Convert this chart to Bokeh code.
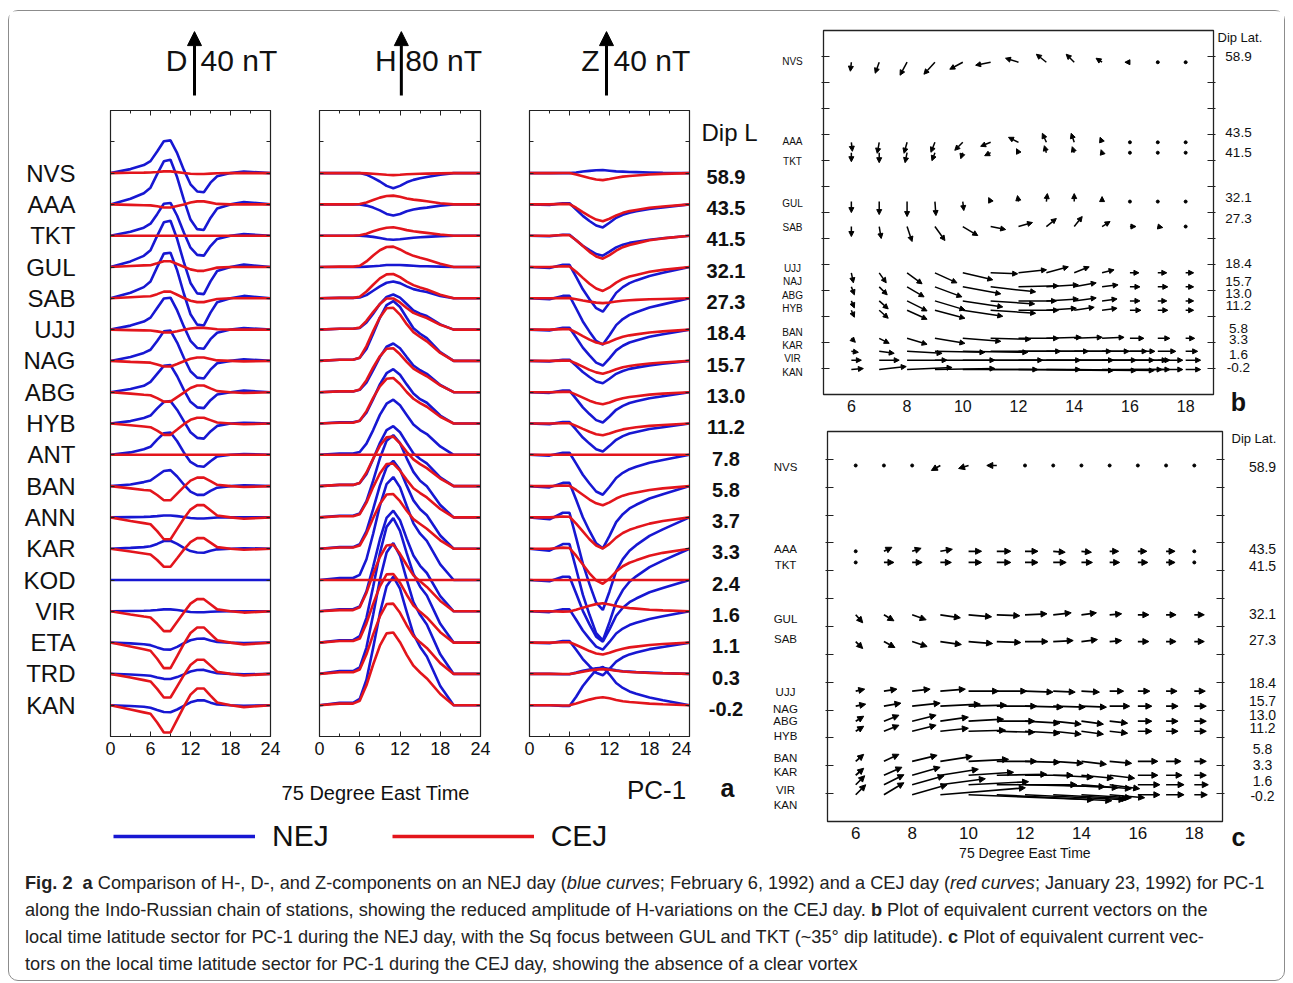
from bokeh.plotting import figure
from bokeh.models import (Range1d, LinearAxis, FixedTicker, Arrow, NormalHead,
                          ColumnDataSource, Legend, LegendItem, Div, CustomJSTickFormatter)
from bokeh.layouts import row, column
from bokeh.embed import file_html
from bokeh.resources import INLINE
from bokeh.core.properties import value

SANS = "Liberation Sans"
BLUE = "#1717d2"
RED = "#e3151c"
INK = "#111111"

# ---------------- panel a data ----------------
STATIONS = ["NVS", "AAA", "TKT", "GUL", "SAB", "UJJ", "NAG", "ABG", "HYB",
            "ANT", "BAN", "ANN", "KAR", "KOD", "VIR", "ETA", "TRD", "KAN"]
DIP_L = ["58.9", "43.5", "41.5", "32.1", "27.3", "18.4", "15.7", "13.0", "11.2",
         "7.8", "5.8", "3.7", "3.3", "2.4", "1.6", "1.1", "0.3", "-0.2"]
HOURS = [0, 3, 5, 6, 7, 8, 9, 10, 11, 12, 13, 14, 15, 16, 18, 20, 24]

D_NEJ = {
    "NVS": [0, 2.5, 5, 7.5, 13.5, 20, 20.5, 12.5, 2, -7, -11.5, -12, -6, -2, 0, 1, 0],
    "AAA": [0, 3.5, 7, 10.5, 19, 27, 28, 17, 3, -9.5, -15.5, -16, -8.5, -2.5, 0, 1.5, 0],
    "TKT": [0, 2.5, 5, 7.5, 13.5, 20, 20.5, 12.5, 2, -7.5, -12, -12.5, -6.5, -2, 0, 1, 0],
    "GUL": [0, 3.5, 7, 10.5, 19.5, 28, 29, 17.5, 3, -10, -16.5, -17, -9, -2.5, 0, 1.5, 0],
    "SAB": [0, 3.5, 7, 10.5, 19.5, 28, 28.5, 17.5, 3, -10, -16.5, -17, -9, -2.5, 0, 1.5, 0],
    "UJJ": [0, 2.5, 5, 7.5, 13.5, 19.5, 20, 12, 2, -7, -11.5, -12, -6, -2, 0, 1, 0],
    "NAG": [0, 2.5, 5, 7, 12.5, 18.5, 19, 11.5, 2, -6.5, -10.5, -11, -5.5, -1.5, 0, 1, 0],
    "ABG": [0, 2, 4, 6.5, 11.5, 16.5, 17, 10, 1.5, -6, -9.5, -10, -5, -1.5, 0, 1, 0],
    "HYB": [0, 1.5, 3.5, 5, 9.5, 13.5, 14, 8.5, 1.5, -5.5, -9, -9.5, -5, -1.5, 0, 0.5, 0],
    "ANT": [0, 1.5, 3.5, 5, 9.5, 13.5, 14, 8.5, 1.5, -4.5, -7, -7.5, -4, -1, 0, 0.5, 0],
    "BAN": [0, 1, 2.5, 3.5, 6.5, 9.5, 10, 6, 1, -3.5, -5.5, -5.5, -3, -1, 0, 0.5, 0],
    "ANN": [0, 0.2, 0.3, 0.5, 0.8, 1.2, 1.2, 0.8, 0.2, -0.4, -0.7, -0.7, -0.4, -0.1, 0, 0, 0],
    "KAR": [0, 0.5, 1, 1.5, 3, 4.8, 5, 3, 0.5, -1.5, -2.4, -2.5, -1.3, -0.4, 0, 0.3, 0],
    "KOD": [0, 0, 0, 0, 0, 0, 0, 0, 0, 0, 0, 0, 0, 0, 0, 0, 0],
    "VIR": [0, 0.2, 0.3, 0.5, 0.8, 1.2, 1.2, 0.8, 0.2, -0.4, -0.6, -0.6, -0.3, -0.1, 0, 0, 0],
    "ETA": [0, -0.5, -1, -1.6, -3, -4.3, -4.4, -2.7, -0.4, 1.5, 2.4, 2.5, 1.3, 0.4, 0, -0.3, 0],
    "TRD": [0, -0.4, -0.8, -1.2, -2.2, -3.1, -3.2, -2, -0.3, 1.5, 2.4, 2.5, 1.3, 0.4, 0, -0.3, 0],
    "KAN": [0, -0.5, -1, -1.6, -3, -4.3, -4.4, -2.7, -0.4, 1.8, 3, 3.1, 1.6, 0.5, 0, -0.3, 0],
}
D_CEJ = {
    "NVS": [0, 0.2, 0.3, 0.4, 0.7, 1.1, 1.1, 0.6, 0.1, -0.4, -0.6, -0.6, -0.3, -0.1, 0, 0, 0],
    "AAA": [0, -0.3, -0.5, -0.6, -1.2, -1.9, -1.9, -1, -0.1, 1.2, 1.9, 1.9, 1.1, 0.3, 0, 0, 0],
    "TKT": [0, 0, 0, 0, 0, 0, 0, 0, 0, 0, 0, 0, 0, 0, 0, 0, 0],
    "GUL": [0, 0.6, 1, 1.1, 2.3, 3.6, 3.6, 1.9, 0.2, -1.5, -2.4, -2.4, -1.4, -0.4, 0, 0, 0],
    "SAB": [0, 0.7, 1.1, 1.3, 2.6, 4.2, 4.2, 2.2, 0.2, -1.5, -2.4, -2.4, -1.4, -0.4, 0, 0, 0],
    "UJJ": [0, -0.3, -0.5, -0.6, -1.1, -1.8, -1.8, -1, -0.1, 0.7, 1.1, 1.1, 0.7, 0.2, 0, 0, 0],
    "NAG": [0, -0.6, -0.9, -1.1, -2.2, -3.5, -3.5, -1.9, -0.2, 1.3, 2.1, 2.1, 1.2, 0.3, 0, -0.3, 0],
    "ABG": [0, -0.9, -1.6, -1.9, -3.7, -5.9, -5.9, -3.1, -0.3, 2.6, 4.2, 4.2, 2.4, 0.7, 0, -0.5, 0],
    "HYB": [0, -1.1, -1.9, -2.3, -4.5, -7.1, -7.1, -3.8, -0.4, 2.3, 3.6, 3.6, 2.1, 0.6, 0, -0.5, 0],
    "ANT": [0, 0, 0, 0, 0, 0, 0, 0, 0, 0, 0, 0, 0, 0, 0, 0, 0],
    "BAN": [0, -1.4, -2.4, -2.8, -5.6, -8.9, -8.9, -4.7, -0.5, 3.4, 5.3, 5.3, 3.1, 0.8, 0, -0.6, 0],
    "ANN": [0, -2.2, -3.6, -4.3, -8.6, -13.7, -13.7, -7.2, -0.7, 4.9, 7.7, 7.7, 4.5, 1.2, 0, -0.8, 0],
    "KAR": [0, -1.8, -3, -3.6, -7.1, -11.3, -11.3, -6, -0.6, 4.1, 6.6, 6.6, 3.8, 1, 0, -0.7, 0],
    "KOD": None,
    "VIR": [0, -2, -3.3, -3.9, -7.8, -12.4, -12.4, -6.5, -0.7, 4.8, 7.6, 7.6, 4.4, 1.2, 0, -0.8, 0],
    "ETA": [0, -2.5, -4.2, -5.1, -10.1, -16, -16, -8.5, -0.8, 6, 9.5, 9.5, 5.5, 1.5, 0, -1.2, 0],
    "TRD": [0, -2.3, -3.9, -4.7, -9.4, -14.8, -14.8, -7.8, -0.8, 5.6, 8.9, 8.9, 5.2, 1.4, 0, -1, 0],
    "KAN": [0, -2.7, -4.5, -5.4, -10.8, -17.1, -17.1, -9, -0.9, 6.6, 10.5, 10.5, 6, 1.7, 0, -1.2, 0],
}
H_NEJ = {
    "NVS": [0, 0, 0, 0, -2, -6, -10.5, -16, -19, -16, -11.5, -8.5, -6.5, -5, -2, 0, 0],
    "AAA": [0, 0, 0, 0, -1.5, -4, -7.5, -12, -14, -12, -8.5, -6.5, -5, -4, -1.5, 0, 0],
    "TKT": [0, 0, 0, 0, -0.5, -1.5, -3, -4.5, -5, -4.5, -3.5, -2.5, -2, -1.5, -0.5, 0, 0],
    "GUL": [0, 0, 0, 0, 0.5, 1, 1.5, 2.5, 2.5, 2.5, 2, 1.5, 1, 1, 0.5, 0, 0],
    "SAB": [0, 0.5, 0.5, 1, 4, 9.5, 15, 19.5, 21, 19, 15, 11.5, 9.5, 8, 3, 0, 0],
    "UJJ": [0, 1, 1, 2, 9, 20, 32, 41, 44, 40, 32, 24, 20, 17, 6.5, 0, 0],
    "NAG": [0, 1.5, 1.5, 4, 15, 34, 54, 70, 75, 67.5, 54, 41, 34, 28.5, 11, 0, 0],
    "ABG": [0, 1, 1, 3, 12, 27.5, 44, 57, 61, 55, 44, 33.5, 27.5, 23, 9, 0, 0],
    "HYB": [0, 1.5, 1.5, 3.5, 13.5, 30.5, 49, 63, 68, 61, 49, 37.5, 30.5, 26, 10, 0, 0],
    "ANT": [0, 1.5, 1.5, 3.5, 14, 31, 50, 64, 69, 62, 50, 38, 31, 26, 10.5, 0, 0],
    "BAN": [0, 1.5, 1.5, 4, 15, 34, 54, 70, 75, 67.5, 54, 41, 34, 28.5, 11, 0, 0],
    "ANN": [0, 2, 2, 5, 20.5, 46, 74, 96, 103, 93, 74, 57, 46, 39, 15.5, 0, 0],
    "KAR": [0, 2, 2, 5.5, 22, 49.5, 79, 102, 110, 99, 79, 60.5, 49.5, 42, 16.5, 0, 0],
    "KOD": [0, 2.5, 2.5, 6.5, 26, 58, 93, 120, 129, 116, 93, 71, 58, 49, 19.5, 0, 0],
    "VIR": [0, 2.5, 2.5, 6, 25, 56, 90, 117, 126, 114, 91, 70, 57, 48, 19, 0, 0],
    "ETA": [0, 3, 3, 8, 31, 70, 112, 145, 156, 140, 112, 86, 70, 59, 23.5, 0, 0],
    "TRD": [0, 3.5, 3.5, 8, 33, 74, 118, 152, 164, 148, 118, 90, 74, 62, 24.5, 0, 0],
    "KAN": [0, 3, 3, 8, 32, 72, 115, 149, 161, 146, 117, 89, 73, 61, 24, 0, 0],
}
H_CEJ = {
    "NVS": [0, 0, 0, 0, -0.3, -0.8, -1.4, -2.1, -2.5, -2.1, -1.5, -1.1, -0.9, -0.7, -0.3, 0, 0],
    "AAA": [0, 0, 0, 0.5, 2.5, 5.5, 8.5, 10.5, 11, 9.5, 7.5, 6, 5, 4, 1.5, 0, 0],
    "TKT": [0, 0, 0, 0.5, 2.5, 5.5, 8, 10, 10.5, 9, 7, 5.5, 4.5, 3.5, 1.5, 0, 0],
    "GUL": [0, 0.5, 0.5, 1.5, 7, 14.5, 21, 25, 25.5, 22, 17.5, 14, 11.5, 9.5, 4, 0, 0],
    "SAB": [0, 0.5, 0.5, 2, 8.5, 17, 25, 30, 30.5, 26.5, 21, 16.5, 13.5, 11, 4.5, 0, 0],
    "UJJ": [0, 1, 1, 2.5, 11, 22, 32, 39, 39, 34, 27, 21, 17.5, 14.5, 6, 0, 0],
    "NAG": [0, 1.5, 1.5, 4, 18.5, 37.5, 54.5, 66, 66.5, 58, 46, 36, 30, 24.5, 10, 0, 0],
    "ABG": [0, 1, 1, 3.5, 15, 31, 45, 54.5, 55, 47.5, 38, 29.5, 24.5, 20, 8.5, 0, 0],
    "HYB": [0, 1, 1, 3.5, 15.5, 32, 46.5, 56, 57, 49.5, 39.5, 31, 25.5, 21, 8.5, 0, 0],
    "ANT": [0, 0, 0, 0, 0, 0, 0, 0, 0, 0, 0, 0, 0, 0, 0, 0, 0],
    "BAN": [0, 1.5, 1.5, 4, 17, 34.5, 50.5, 61, 62, 53.5, 43, 33.5, 27.5, 22.5, 9.5, 0, 0],
    "ANN": [0, 1.5, 1.5, 4, 18.5, 38, 55, 67, 67.5, 58.5, 47, 36.5, 30.5, 25, 10.5, 0, 0],
    "KAR": [0, 1.5, 1.5, 4, 19, 38.5, 56, 68, 68.5, 59.5, 47.5, 37, 31, 25, 10.5, 0, 0],
    "KOD": [0, 0, 0, 0, 0, 0, 0, 0, 0, 0, 0, 0, 0, 0, 0, 0, 0],
    "VIR": [0, 1.5, 1.5, 5, 23, 47, 68, 82.5, 83.5, 72, 58, 45, 37.5, 30.5, 13, 0, 0],
    "ETA": [0, 2, 2, 5, 24, 48.5, 70.5, 85.5, 86, 75, 60, 46.5, 38.5, 31.5, 13, 0, 0],
    "TRD": [0, 2, 2, 5.5, 24.5, 49.5, 72, 87.5, 88, 76.5, 61, 47.5, 39.5, 32.5, 13.5, 0, 0],
    "KAN": [0, 2, 2, 5.5, 25, 51, 74.5, 90, 91, 79, 63, 49.5, 41, 33.5, 14, 0, 0],
}
Z_NEJ = {
    "NVS": [0, 0, 0, 0, 0.4, 1, 1.4, 1.8, 1.9, 1.5, 1.1, 0.9, 0.7, 0.6, 0.4, 0.2, 0],
    "AAA": [0, -0.3, 0.7, 0.7, -3.2, -7.2, -10.4, -13.2, -14.4, -11.5, -8.4, -6.5, -5.2, -4.3, -2.9, -1.9, 0],
    "TKT": [0, -0.3, 0.6, 0.6, -2.8, -6.3, -9, -11.5, -12.5, -10, -7.3, -5.6, -4.5, -3.8, -2.5, -1.6, 0],
    "GUL": [0, -0.6, 1.4, 1.4, -6.2, -14, -20.2, -25.8, -28, -22.4, -16.2, -12.6, -10.1, -8.4, -5.6, -3.6, 0],
    "SAB": [0, -0.6, 1.5, 1.5, -6.4, -14.5, -20.9, -26.7, -29, -23.2, -16.8, -13, -10.4, -8.7, -5.8, -3.8, 0],
    "UJJ": [0, -0.5, 1.1, 1.1, -5, -11.3, -16.2, -20.7, -22.5, -18, -13, -10.1, -8.1, -6.8, -4.5, -2.9, 0],
    "NAG": [0, -0.3, 0.7, 0.7, -3.1, -7, -10.1, -12.9, -14, -11.2, -8.1, -6.3, -5, -4.2, -2.8, -1.8, 0],
    "ABG": [0, -0.4, 1, 1, -4.2, -9.5, -13.7, -17.5, -19, -15.2, -11, -8.6, -6.8, -5.7, -3.8, -2.5, 0],
    "HYB": [0, -0.4, 0.9, 0.9, -3.9, -8.8, -12.6, -16.1, -17.5, -14, -10.2, -7.9, -6.3, -5.3, -3.5, -2.3, 0],
    "ANT": [0, -0.5, 1.3, 1.3, -5.5, -12.5, -18, -23, -25, -20, -14.5, -11.3, -9, -7.5, -5, -3.3, 0],
    "BAN": [0, -0.8, 2, 2, -8.6, -19.5, -28.1, -35.9, -39, -31.2, -22.6, -17.6, -14, -11.7, -7.8, -5.1, 0],
    "ANN": [0, -1.2, 2.9, 2.9, -12.8, -29, -41.8, -53.4, -58, -46.4, -33.6, -26.1, -20.9, -17.4, -11.6, -7.5, 0],
    "KAR": [0, -1.2, 2.9, 2.9, -12.7, -28.8, -41.4, -52.9, -57.5, -46, -33.4, -25.9, -20.7, -17.3, -11.5, -7.5, 0],
    "KOD": [0, -0.8, 2, 2, -8.5, -19.3, -27.8, -35.5, -38.6, -30.9, -22.4, -17.4, -13.9, -11.6, -7.7, -5, 0],
    "VIR": [0, -0.5, 1.2, 1.2, -5.3, -12, -17.3, -22.1, -24, -19.2, -13.9, -10.8, -8.6, -7.2, -4.8, -3.1, 0],
    "ETA": [0, -0.4, 1, 1, -4.5, -10.3, -14.8, -18.9, -20.5, -16.4, -11.9, -9.2, -7.4, -6.2, -4.1, -2.7, 0],
    "TRD": [0, 0, -0.2, -0.2, 0.8, 1.9, 2.7, 3.5, 3.8, 3, 2.2, 1.7, 1.4, 1.1, 0.8, 0.5, 0],
    "KAN": [0, 0, -0.5, -0.5, 5.3, 12, 17.3, 22.1, 24, 19.2, 13.9, 10.8, 8.6, 7.2, 4.8, 3.1, 0],
}
Z_CEJ = {
    "NVS": [0, 0, 0.1, 0.1, -0.9, -2, -3.1, -4, -4.4, -3.7, -2.9, -2.2, -1.8, -1.5, -0.9, -0.5, 0],
    "AAA": [0, 0, 0.3, 0.2, -2.1, -4.8, -7.4, -9.5, -10.6, -9, -6.9, -5.3, -4.2, -3.5, -2.1, -1.3, 0],
    "TKT": [0, 0, 0.4, 0.3, -2.9, -6.5, -10.1, -13, -14.4, -12.2, -9.4, -7.2, -5.8, -4.8, -2.9, -1.7, 0],
    "GUL": [0, 0, 0.5, 0.3, -3, -6.8, -10.5, -13.5, -15, -12.8, -9.8, -7.5, -6, -5, -3, -1.8, 0],
    "SAB": [0, 0, 0.1, 0.1, -0.6, -1.4, -2.1, -2.7, -3, -2.6, -2, -1.5, -1.2, -1, -0.6, -0.4, 0],
    "UJJ": [0, 0, 0.3, 0.2, -1.8, -4.1, -6.3, -8.1, -9, -7.7, -5.9, -4.5, -3.6, -3, -1.8, -1.1, 0],
    "NAG": [0, 0, 0.2, 0.2, -1.6, -3.6, -5.6, -7.2, -8, -6.8, -5.2, -4, -3.2, -2.6, -1.6, -1, 0],
    "ABG": [0, 0, 0.2, 0.2, -1.5, -3.4, -5.3, -6.8, -7.5, -6.4, -4.9, -3.8, -3, -2.5, -1.5, -0.9, 0],
    "HYB": [0, 0, 0.2, 0.2, -1.5, -3.4, -5.2, -6.7, -7.4, -6.3, -4.8, -3.7, -3, -2.4, -1.5, -0.9, 0],
    "ANT": [0, 0, 0, 0, 0, 0, 0, 0, 0, 0, 0, 0, 0, 0, 0, 0, 0],
    "BAN": [0, 0, 0.4, 0.2, -2.4, -5.4, -8.4, -10.8, -12, -10.2, -7.8, -6, -4.8, -4, -2.4, -1.4, 0],
    "ANN": [0, 0, 0.6, 0.4, -3.9, -8.8, -13.7, -17.6, -19.5, -16.6, -12.7, -9.8, -7.8, -6.4, -3.9, -2.3, 0],
    "KAR": [0, 0, 0.7, 0.4, -4.4, -9.9, -15.4, -19.8, -22, -18.7, -14.3, -11, -8.8, -7.3, -4.4, -2.6, 0],
    "KOD": [0, 0, 0, 0, 0, 0, 0, 0, 0, 0, 0, 0, 0, 0, 0, 0, 0],
    "VIR": [0, 0, -0.2, -0.1, 1, 2.3, 3.5, 4.5, 5, 4.3, 3.3, 2.5, 2, 1.7, 1, 0.6, 0],
    "ETA": [0, 0, 0.2, 0.2, -1.5, -3.4, -5.3, -6.8, -7.5, -6.4, -4.9, -3.8, -3, -2.5, -1.5, -0.9, 0],
    "TRD": [0, 0, -0.1, -0.1, 0.6, 1.4, 2.1, 2.7, 3, 2.6, 2, 1.5, 1.2, 1, 0.6, 0.4, 0],
    "KAN": [0, 0, -0.2, -0.1, 1, 2.3, 3.5, 4.5, 5, 4.3, 3.3, 2.5, 2, 1.7, 1, 0.6, 0],
}

# ---------------- panels b, c data ----------------
VEC_HOURS = [6, 7, 8, 9, 10, 11, 12, 13, 14, 15, 16, 17, 18]
VEC_LAT = [58.9, 43.5, 41.5, 32.1, 27.3, 18.4, 15.7, 13.0, 11.2, 5.8, 3.3, 1.6, -0.2]
VEC_DIP = ["58.9", "43.5", "41.5", "32.1", "27.3", "18.4", "15.7", "13.0", "11.2",
           "5.8", "3.3", "1.6", "-0.2"]
B_NAMES = ["NVS", "AAA", "TKT", "GUL", "SAB", "UJJ", "NAJ", "ABG", "HYB", "BAN", "KAR", "VIR", "KAN"]
C_NAMES = ["NVS", "AAA", "TKT", "GUL", "SAB", "UJJ", "NAG", "ABG", "HYB", "BAN", "KAR", "VIR", "KAN"]

# equivalent current vectors, east / north components (arbitrary units)
B_EAST = [
    [-1, -4, -7, -11, -13, -15, -13, -10, -8, -6, -5, 0, 0],
    [1, -2, -3, -4, -8, -10, -10, -4, -3, -2, 0, 0, 0],
    [0, 0, -2, -3, -2, -6, -2, -2, -2, -1, 0, 0, 0],
    [0, 0, 0, 1, 1, -2, -1, 1, 0, 0, 0, 0, 0],
    [0, 2, 5, 10, 15, 15, 14, 10, 8, 8, 6, 5, 0],
    [2, 7, 15, 22, 30, 27, 28, 22, 15, 12, 9, 9, 8],
    [3, 8, 17, 27, 38, 45, 40, 32, 22, 16, 10, 10, 8],
    [3, 9, 20, 30, 40, 44, 38, 32, 22, 15, 10, 9, 8],
    [3, 9, 20, 30, 40, 45, 40, 30, 20, 15, 11, 10, 8],
    [4, 10, 20, 30, 38, 40, 40, 35, 28, 22, 14, 12, 9],
    [7, 15, 35, 50, 65, 70, 70, 65, 55, 45, 25, 18, 12],
    [10, 20, 40, 60, 80, 90, 95, 90, 80, 65, 40, 25, 15],
    [12, 27, 45, 60, 75, 90, 95, 90, 80, 60, 40, 25, 15],
]
B_NORTH = [
    [-9, -11, -13, -12, -7, -3, 4, 8, 8, 4, 0, 0, 0],
    [-9, -11, -11, -10, -8, -4, 5, 9, 9, 5, 0, 0, 0],
    [-9, -10, -10, -8, -6, -3, 4, 7, 6, 3, 0, 0, 0],
    [-11, -13, -15, -14, -9, 4, 6, 8, 8, 5, 0, 0, 0],
    [-10, -12, -15, -14, -9, -3, 4, 8, 10, 5, 0, -1, 0],
    [-10, -10, -11, -10, -7, -1, 3, 6, 6, 3, 0, 0, 0],
    [-8, -8, -10, -10, -7, -5, 1, 2, 4, 2, 0, 0, 0],
    [-7, -8, -10, -9, -6, -3, 0, 2, 3, 2, 0, 0, 0],
    [-7, -8, -9, -8, -6, -3, 0, 2, 3, 2, 0, 0, 0],
    [-4, -5, -6, -5, -3, -1, 0, 1, 1, 1, 0, 0, 0],
    [-1, -2, -2, -1, -1, 0, 0, 0, 0, 0, 0, 0, 0],
    [0, 0, 0, 0, 0, 0, 0, 0, 0, 0, 0, 0, 0],
    [1, 3, 2, 1, 0, 0, -1, -1, -1, 0, 0, 0, 0],
]
C_EAST = [
    [0, 0, 0, -9, -10, -10, 0, 0, 0, 0, 0, 0, 0],
    [0, 8, 9, 12, 13, 14, 13, 12, 10, 9, 9, 9, 0],
    [0, 10, 10, 11, 13, 14, 13, 13, 11, 10, 10, 9, 0],
    [7, 10, 14, 20, 23, 23, 22, 18, 15, 12, 11, 10, 10],
    [7, 11, 15, 21, 24, 24, 23, 20, 16, 12, 11, 10, 10],
    [9, 13, 18, 25, 30, 30, 28, 22, 18, 14, 12, 11, 11],
    [10, 17, 28, 40, 38, 40, 38, 32, 25, 20, 14, 12, 12],
    [8, 15, 24, 28, 35, 38, 35, 28, 22, 18, 14, 12, 12],
    [8, 15, 24, 28, 37, 38, 35, 28, 22, 18, 14, 12, 12],
    [8, 15, 25, 32, 40, 40, 35, 30, 25, 22, 20, 15, 12],
    [8, 18, 28, 38, 45, 50, 48, 40, 32, 25, 20, 16, 12],
    [9, 20, 32, 45, 60, 80, 80, 65, 50, 30, 22, 18, 14],
    [10, 20, 35, 85, 125, 115, 100, 75, 50, 35, 22, 18, 13],
]
C_NORTH = [
    [0, 0, 0, -5, -3, 0, 0, 0, 0, 0, 0, 0, 0],
    [0, 4, 3, 2, 0, 0, 0, -1, -1, 0, 0, 0, 0],
    [0, 0, 0, 0, 0, 0, 0, 0, 0, 0, 0, 0, 0],
    [-8, -6, -5, -3, -2, -1, 1, 2, 2, 1, 0, 0, 0],
    [-7, -6, -5, -3, -2, -1, 0, 1, 2, 1, 0, 0, 0],
    [2, 2, 2, 2, 0, 0, -1, -1, -1, 0, 0, 0, 0],
    [2, 3, 3, 2, 1, 0, -1, -1, -1, 0, 0, 0, 0],
    [5, 6, 6, 4, 2, 0, -2, -3, -3, -2, 0, 0, 0],
    [5, 6, 6, 3, 1, -1, -2, -3, -3, -2, 0, 0, 0],
    [7, 7, 6, 5, 2, 0, -1, -2, -3, -2, 0, 0, 0],
    [7, 8, 8, 6, 3, 1, 0, -2, -3, -3, 0, 0, 0],
    [9, 10, 9, 6, 3, 0, -2, -3, -4, -4, 0, 0, 0],
    [10, 12, 10, 7, -5, -6, -5, -4, -3, -3, 0, 0, 0],
]
# label placement (latitude units) for the station names / dip values
B_NAME_Y = [59.0, 43.6, 39.9, 31.7, 27.1, 19.3, 16.8, 14.1, 11.6, 7.0, 4.5, 2.0, -0.7]
B_DIP_Y = [60.0, 45.3, 41.5, 32.8, 28.8, 20.1, 16.8, 14.5, 12.2, 7.6, 5.5, 2.6, 0.1]
C_NAME_Y = [58.6, 44.0, 41.0, 31.4, 27.8, 18.3, 15.2, 13.1, 10.4, 6.4, 3.8, 0.6, -2.0]
C_DIP_Y = [58.6, 44.0, 40.8, 32.2, 27.5, 19.9, 16.7, 14.2, 11.7, 8.1, 5.1, 2.2, -0.4]

EMPTY = CustomJSTickFormatter(code="return '';")
FRAME_A_H = 626           # height of the stacked-curve frames
PPY_A = FRAME_A_H / 20.0  # pixels per station spacing
BT_A, BB_A = 2, 30        # top / bottom borders of the panel-a figures
HDR_H = 97


def blank(width, height, x_range, y_range):
    p = figure(width=width, height=height, x_range=x_range, y_range=y_range, min_border=0,
               x_axis_location=None, y_axis_location=None, toolbar_location=None,
               output_backend="svg")
    p.grid.visible = False
    p.outline_line_color = None
    return p


def a_panel(blue, red, per_nt, width, bl, br, left_names=False):
    p = figure(width=width, height=BT_A + FRAME_A_H + BB_A, x_range=Range1d(0, 24),
               y_range=Range1d(-18, 2), min_border_left=bl, min_border_right=br,
               min_border_top=BT_A, min_border_bottom=BB_A,
               x_axis_location=None, y_axis_location=None, toolbar_location=None,
               output_backend="svg")
    p.grid.visible = False
    p.outline_line_color = "#222222"
    p.outline_line_width = 1.2
    xt = FixedTicker(ticks=[0, 6, 12, 18, 24], minor_ticks=[3, 9, 15, 21])
    for loc in ("below", "above"):
        ax = LinearAxis(ticker=xt, major_tick_in=5, major_tick_out=0, minor_tick_in=3,
                        minor_tick_out=0, axis_line_color="#222222",
                        major_tick_line_color="#222222", minor_tick_line_color="#222222")
        if loc == "below":
            ax.major_label_text_font_size = "18px"
            ax.major_label_text_font = SANS
            ax.major_label_text_color = INK
            ax.major_label_standoff = 5
        else:
            ax.formatter = EMPTY
            ax.major_label_standoff = 0
        p.add_layout(ax, loc)
    yt = FixedTicker(ticks=list(range(-17, 2)), minor_ticks=[])
    for loc in ("left", "right"):
        ax = LinearAxis(ticker=yt, major_tick_in=4, major_tick_out=0,
                        axis_line_color="#222222", major_tick_line_color="#222222")
        if loc == "left" and left_names:
            ax.formatter = CustomJSTickFormatter(
                args=dict(names=STATIONS),
                code="const i = Math.round(-tick); return (i >= 0 && i < names.length) ? names[i] : '';")
            ax.major_label_text_font_size = "24px"
            ax.major_label_text_font = SANS
            ax.major_label_text_color = INK
            ax.major_label_standoff = 35
        else:
            ax.formatter = EMPTY
            ax.major_label_standoff = 0
        p.add_layout(ax, loc)

    xs_b, ys_b, xs_r, ys_r = [], [], [], []
    for i, st in enumerate(STATIONS):
        xs_b.append(HOURS)
        ys_b.append([-i + v * per_nt for v in blue[st]])
        if red[st] is not None:
            xs_r.append(HOURS)
            ys_r.append([-i + v * per_nt for v in red[st]])
    p.multi_line(xs_b, ys_b, line_color=BLUE, line_width=2.6)
    p.multi_line(xs_r, ys_r, line_color=RED, line_width=2.6)
    return p


def a_header(comp, nt_arrow, per_nt, width, bl, br, pos):
    ppx = (width - bl - br) / 24.0
    y0 = 2 + BT_A / PPY_A
    p = blank(width, HDR_H, Range1d(-bl / ppx, 24 + br / ppx), Range1d(y0, y0 + HDR_H / PPY_A))
    lx, ax_x, rx = pos
    p.text(x=[lx], y=[3.6], text=[comp], text_align="right", text_baseline="middle",
           text_font=value(SANS), text_font_size="30px", text_color=INK)
    p.text(x=[rx], y=[3.6], text=[f"{nt_arrow} nT"], text_align="left", text_baseline="middle",
           text_font=value(SANS), text_font_size="30px", text_color=INK)
    p.add_layout(Arrow(end=NormalHead(size=14, fill_color="black", line_color="black"),
                       x_start=ax_x, y_start=2.48, x_end=ax_x, y_end=2.48 + nt_arrow * per_nt,
                       line_width=3, line_color="black"))
    return p


PER_D = 2.04 / 40   # station spacings per nT (40 nT scale arrow)
PER_H = 2.04 / 80
PER_Z = 2.04 / 40

fD = a_panel(D_NEJ, D_CEJ, PER_D, 285, 101, 24, left_names=True)
fH = a_panel(H_NEJ, H_CEJ, PER_H, 210, 25, 24)
fZ = a_panel(Z_NEJ, Z_CEJ, PER_Z, 187, 25, 2)

hD = a_header("D", 40, PER_D, 285, 101, 24, (11.55, 12.6, 13.5))
hH = a_header("H", 80, PER_H, 210, 25, 24, (11.5, 12.2, 12.8))
hZ = a_header("Z", 40, PER_Z, 261, 25, 76, (10.5, 11.55, 12.6))

# dip-latitude column to the right of the Z panel: its frame lines up with the
# panel frames in the row, so it shares the station scale (-18 .. 2)
fdip = blank(74, BT_A + FRAME_A_H + BB_A, Range1d(0, 74), Range1d(-18, 2))
fdip.min_border_top = BT_A
fdip.min_border_bottom = BB_A
fdip.text(x=[34.5] * len(DIP_L), y=[-i - 0.12 for i in range(len(DIP_L))], text=DIP_L,
          text_align="center", text_baseline="middle", text_font=value(SANS),
          text_font_size="20px", text_font_style="bold", text_color=INK)
fdip.text(x=[10], y=[1.3], text=["Dip L"], text_align="left", text_baseline="middle",
          text_font=value(SANS), text_font_size="24px", text_color=INK)

# bottom strip of panel a: axis caption, PC-1 label and legend
fbot = blank(756, 99, Range1d(0, 756), Range1d(99, 0))
r_nej = fbot.line(x=[-60, -50], y=[-60, -60], line_color=BLUE, line_width=3.5)
r_cej = fbot.line(x=[-60, -50], y=[-60, -60], line_color=RED, line_width=3.5)
leg = Legend(items=[LegendItem(label="NEJ", renderers=[r_nej]),
                    LegendItem(label="CEJ", renderers=[r_cej])],
             orientation="horizontal", location=(104, 12), glyph_width=142, glyph_height=30,
             label_standoff=17, spacing=63, padding=0, margin=0, border_line_color=None,
             background_fill_color=None, label_text_font=SANS, label_text_font_size="30px",
             label_text_color=INK, label_height=30)
fbot.add_layout(leg)
fbot.text(x=[369], y=[26], text=["75 Degree East  Time"], text_align="center",
          text_baseline="middle", text_font=value(SANS), text_font_size="20px", text_color=INK)
fbot.text(x=[647], y=[23], text=["PC-1"], text_align="center", text_baseline="middle",
          text_font=value(SANS), text_font_size="26px", text_color=INK)
fbot.text(x=[718], y=[21], text=["a"], text_align="center", text_baseline="middle",
          text_font=value(SANS), text_font_size="25px", text_font_style="bold", text_color=INK)


def vec_panel(width, height, bl, br, bt, bb, east, north, tick_size, head, lw, xlabel=None):
    p = figure(width=width, height=height, x_range=Range1d(5, 19), y_range=Range1d(-5, 65),
               min_border_left=bl, min_border_right=br, min_border_top=bt, min_border_bottom=bb,
               x_axis_location=None, y_axis_location=None, toolbar_location=None,
               output_backend="svg")
    p.grid.visible = False
    p.outline_line_color = "#222222"
    p.outline_line_width = 1.3
    bx = LinearAxis(ticker=FixedTicker(ticks=[6, 8, 10, 12, 14, 16, 18], minor_ticks=[]),
                    major_tick_in=0, major_tick_out=0, axis_line_color="#222222",
                    major_label_text_font=SANS, major_label_text_font_size=tick_size,
                    major_label_text_color=INK, major_label_standoff=5)
    if xlabel:
        bx.axis_label = xlabel
        bx.axis_label_text_font = SANS
        bx.axis_label_text_font_size = "14px"
        bx.axis_label_text_font_style = "normal"
        bx.axis_label_text_color = INK
        bx.axis_label_standoff = 3
    p.add_layout(bx, "below")
    for loc in ("left", "right"):
        ax = LinearAxis(ticker=FixedTicker(ticks=list(range(0, 61, 5)), minor_ticks=[]),
                        major_tick_in=6, major_tick_out=2, axis_line_color="#222222",
                        major_tick_line_color="#222222", formatter=EMPTY, major_label_standoff=0)
        p.add_layout(ax, loc)
    fw = width - bl - br
    fh = height - bt - bb
    kx = 14.0 / fw
    ky = 70.0 / fh
    x0, y0, x1, y1, dx, dy = [], [], [], [], [], []
    for r, lat in enumerate(VEC_LAT):
        for c, h in enumerate(VEC_HOURS):
            e, n = east[r][c], north[r][c]
            if e == 0 and n == 0:
                dx.append(h)
                dy.append(lat)
            else:
                x0.append(h)
                y0.append(lat)
                x1.append(h + e * kx)
                y1.append(lat + n * ky)
    src = ColumnDataSource(dict(x0=x0, y0=y0, x1=x1, y1=y1))
    p.add_layout(Arrow(source=src, x_start="x0", y_start="y0", x_end="x1", y_end="y1",
                       line_width=lw, line_color="black",
                       end=NormalHead(size=head, fill_color="black", line_color="black",
                                      line_width=1)))
    p.scatter(dx, dy, size=3, color="black")
    return p, fh, bt, bb


def side(width, height, fh, bt, bb, names, name_y, name_x, size, align="center"):
    # full-height text column; wrapped in its own column so its frame is not
    # lined up with the neighbouring plot frame
    ppd = fh / 70.0
    p = blank(width, height, Range1d(0, width), Range1d(-5 - bb / ppd, 65 + bt / ppd))
    p.text(x=[name_x] * len(names), y=name_y, text=names, text_align=align,
           text_baseline="middle", text_font=value(SANS), text_font_size=size, text_color=INK)
    return p


fB, fhB, btB, bbB = vec_panel(396, 409, 3, 3, 19, 26, B_EAST, B_NORTH, "16px", 5, 1.5)
fB_l = side(55, 409, fhB, btB, bbB, B_NAMES, B_NAME_Y, 27, "10px")
fB_r = side(68, 409, fhB, btB, bbB, VEC_DIP, B_DIP_Y, 22, "13.5px")
fB_r.text(x=[1], y=[63.6], text=["Dip Lat."], text_align="left", text_baseline="middle",
          text_font=value(SANS), text_font_size="13px", text_color=INK)
fB_r.text(x=[22], y=[-6.5], text=["b"], text_align="center", text_baseline="middle",
          text_font=value(SANS), text_font_size="25px", text_font_style="bold", text_color=INK)

fC, fhC, btC, bbC = vec_panel(401, 445, 3, 3, 11, 44, C_EAST, C_NORTH, "17px", 6, 1.7,
                              xlabel="75 Degree East Time")
fC_l = side(59, 445, fhC, btC, bbC, C_NAMES, C_NAME_Y, 20, "11.5px")
fC_r = side(59, 445, fhC, btC, bbC, VEC_DIP, C_DIP_Y, 37, "14px")
fC_r.text(x=[6], y=[63.8], text=["Dip Lat."], text_align="left", text_baseline="middle",
          text_font=value(SANS), text_font_size="13px", text_color=INK)
fC_r.text(x=[13], y=[-7.7], text=["c"], text_align="center", text_baseline="middle",
          text_font=value(SANS), text_font_size="25px", text_font_style="bold", text_color=INK)

caption_html = (
    "<b>Fig. 2</b>&nbsp; <b>a</b> Comparison of H-, D-, and Z-components on an NEJ day "
    "(<i>blue curves</i>; February 6, 1992) and a CEJ day (<i>red curves</i>; January 23, 1992) for PC-1<br>"
    "along the Indo-Russian chain of stations, showing the reduced amplitude of H-variations on the "
    "CEJ day. <b>b</b> Plot of equivalent current vectors on the<br>"
    "local time latitude sector for PC-1 during the NEJ day, with the Sq focus between GUL and TKT "
    "(~35° dip latitude). <b>c</b> Plot of equivalent current vec-<br>"
    "tors on the local time latitude sector for PC-1 during the CEJ day, showing the absence of a clear vortex"
)
cap = Div(text=caption_html, width=1275, height=115, margin=0,
          styles={"font-family": SANS, "font-size": "18.2px", "line-height": "27px",
                  "color": "#222222", "padding-left": "16px", "padding-top": "5px",
                  "white-space": "nowrap", "overflow": "hidden", "box-sizing": "border-box"})

left = column(row(hD, hH, hZ), row(fD, fH, fZ, fdip), fbot)
right = column(row(column(fB_l), fB, column(fB_r)), row(column(fC_l), fC, column(fC_r)))
root = column(row(left, right), cap, margin=(10, 0, 0, 8),
              styles={"border": "1px solid #8c8c8c", "border-radius": "10px"})

open("out.html", "w").write(file_html(root, INLINE))
